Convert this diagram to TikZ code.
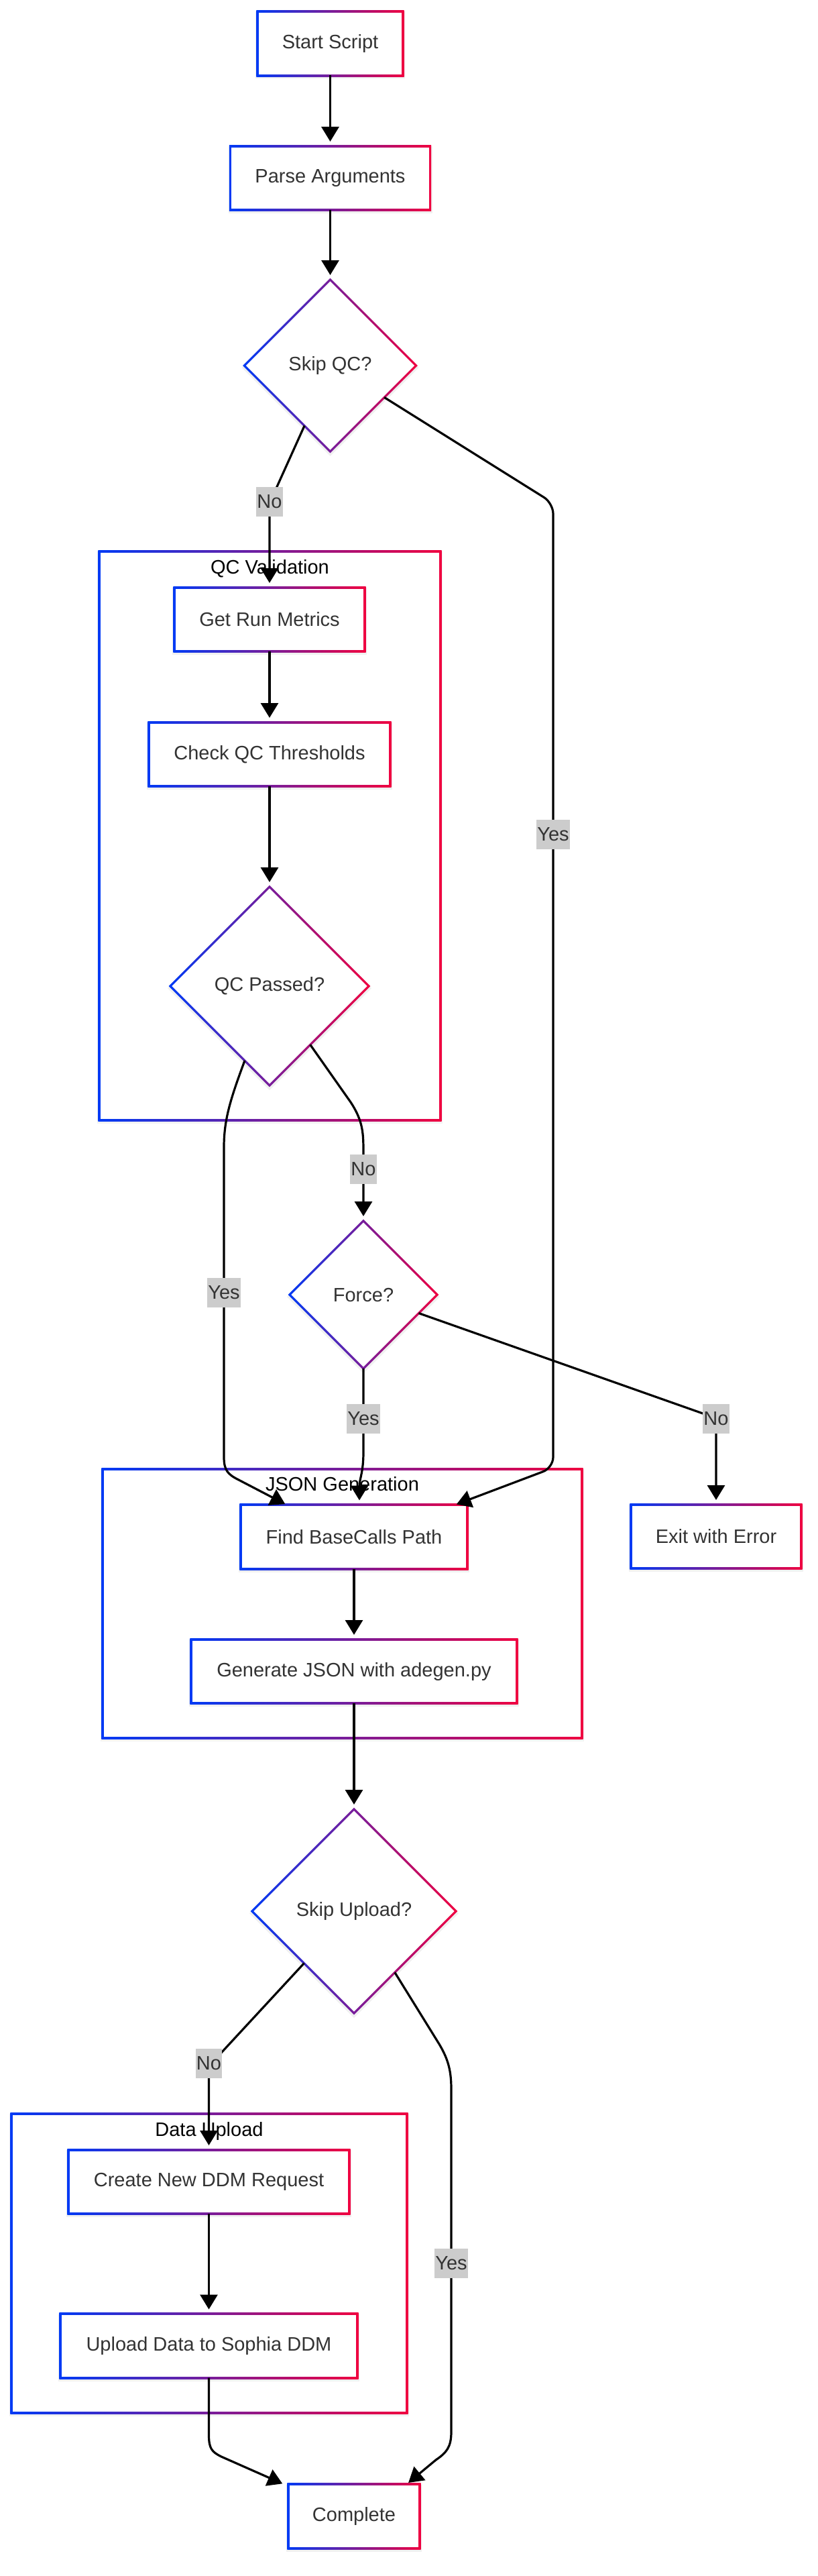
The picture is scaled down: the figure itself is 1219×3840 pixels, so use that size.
\documentclass[tikz,border=0pt]{standalone}
\usepackage{fontspec}
\setmainfont{Liberation Sans}
\usetikzlibrary{shapes.geometric,arrows.meta,calc,backgrounds}
\definecolor{cb}{RGB}{0,58,245}
\definecolor{cr}{RGB}{240,0,64}
\definecolor{txt}{HTML}{333333}
\definecolor{lblbg}{HTML}{CCCCCC}
% rectangle node frame with horizontal gradient
\newcommand\rframe[1]{%
  \fill[black,opacity=.06] ($(#1.north west)+(-3pt,0pt)$) rectangle ($(#1.south east)+(3pt,-5pt)$);
  \shade[left color=cb,right color=cr] ($(#1.north west)+(-1.6pt,1.6pt)$) rectangle ($(#1.south east)+(1.6pt,-1.6pt)$);
  \fill[white] ($(#1.north west)+(1.6pt,-1.6pt)$) rectangle ($(#1.south east)+(-1.6pt,1.6pt)$);}
% diamond node frame with horizontal gradient
\newcommand\dframe[1]{%
  \fill[black,opacity=.06] ($(#1.north)+(0,1pt)$) -- ($(#1.east)+(4pt,-3pt)$) -- ($(#1.south)+(0,-7pt)$) -- ($(#1.west)+(-4pt,-3pt)$) -- cycle;
  \shade[left color=cb,right color=cr] ($(#1.north)+(0,2.3pt)$) -- ($(#1.east)+(2.3pt,0)$) -- ($(#1.south)+(0,-2.3pt)$) -- ($(#1.west)+(-2.3pt,0)$) -- cycle;
  \fill[white] ($(#1.north)+(0,-2.3pt)$) -- ($(#1.east)+(-2.3pt,0)$) -- ($(#1.south)+(0,2.3pt)$) -- ($(#1.west)+(2.3pt,0)$) -- cycle;}
% cluster frame (typed coordinates, y downwards)
\newcommand\cframe[4]{%
  \fill[black,opacity=.05] (#1-3,#2) rectangle (#3+3,#4+5);
  \shade[left color=cb,right color=cr] (#1-1.6,#2-1.6) rectangle (#3+1.6,#4+1.6);
  \fill[white] (#1+1.6,#2+1.6) rectangle (#3-1.6,#4-1.6);}
\begin{document}
\begin{tikzpicture}[x=1pt,y=-1pt,font=\fontsize{29}{35}\selectfont,
  box/.style={rectangle,inner sep=0pt,outer sep=0pt,minimum height=95pt,text=txt},
  dec/.style={diamond,aspect=1,inner sep=0pt,outer sep=0pt,text=txt},
  lbl/.style={fill=lblbg,text=txt,inner xsep=1pt,inner ysep=0pt,minimum height=44pt},
  ctitle/.style={text=black,inner sep=0pt,anchor=base},
  edge/.style={line width=3.2pt,-{Triangle[length=22pt,width=26pt]},shorten >=7pt}]
\useasboundingbox (0,0) rectangle (1219,3840);

% cluster titles
\node[ctitle] (tqc) at (402.5,855) {QC Validation};
\node[ctitle] (tjson) at (510.5,2222) {JSON Generation};
\node[ctitle] (tdata) at (312,3184) {Data Upload};

% nodes
\node[box,minimum width=217pt] (start) at (492.5,65) {Start Script};
\node[box,minimum width=298pt] (parse) at (492.5,265.5) {Parse Arguments};
\node[dec,minimum width=256pt,minimum height=256pt] (skipqc) at (492.5,545) {Skip QC?};
\node[box,minimum width=284pt] (getrun) at (402,923.5) {Get Run Metrics};
\node[box,minimum width=360pt] (check) at (402,1124.5) {Check QC Thresholds};
\node[dec,minimum width=296pt,minimum height=296pt] (qcpass) at (402,1470) {QC Passed?};
\node[dec,minimum width=220pt,minimum height=220pt] (force) at (542,1930) {Force?};
\node[box,minimum width=338pt] (find) at (528,2291) {Find BaseCalls Path};
\node[box,minimum width=486pt] (gen) at (528,2491.5) {Generate JSON with adegen.py};
\node[box,minimum width=254pt] (exit) at (1068,2290.5) {Exit with Error};
\node[dec,minimum width=304pt,minimum height=304pt] (skipup) at (528,2849) {Skip Upload?};
\node[box,minimum width=419pt] (create) at (311.5,3252.5) {Create New DDM Request};
\node[box,minimum width=443pt] (upload) at (311.5,3497) {Upload Data to Sophia DDM};
\node[box,minimum width=196pt] (complete) at (528,3751) {Complete};

\begin{pgfonlayer}{background}
  \fill[white] (0,0) rectangle (1219,3840);
  \cframe{148}{822}{657}{1670}
  \cframe{153}{2190}{868}{2591}
  \cframe{17}{3151}{607}{3597}
  \rframe{start}\rframe{parse}\rframe{getrun}\rframe{check}
  \rframe{find}\rframe{gen}\rframe{exit}\rframe{create}\rframe{upload}\rframe{complete}
  \dframe{skipqc}\dframe{qcpass}\dframe{force}\dframe{skipup}
\end{pgfonlayer}

% connectors
\draw[edge] (start.south) -- (parse.north);
\draw[edge] (parse.south) -- (skipqc.north);
\draw[edge,rounded corners=14pt] ($(skipqc.west)!0.7!(skipqc.south)$) -- (402,750) -- (getrun.north);
\draw[edge,rounded corners=16pt,shorten >=3pt] ($(skipqc.east)!0.37!(skipqc.south)$) -- (825,750) -- (825,2188) -- ($(find.north east)+(-19pt,0)$);
\draw[edge] (getrun.south) -- (check.north);
\draw[edge] (check.south) -- (qcpass.north);
\draw[edge] ($(qcpass.east)!0.59!(qcpass.south)$) -- (523,1643) .. controls (542,1672) and (542,1690) .. (542,1720) -- (force.north);
\draw[edge,shorten >=3pt] ($(qcpass.west)!0.75!(qcpass.south)$) .. controls (343,1640) and (334,1670) .. (334,1710) -- (334,2172) .. controls (334,2192) and (340,2198) .. (356,2206) -- ($(find.north west)+(69pt,0)$);
\draw[edge] (force.south) -- (542,2165) .. controls (542,2195) and (536,2205) .. ($(find.north)+(8pt,0)$);
\draw[edge,rounded corners=10pt] ($(force.east)!0.25!(force.south)$) -- (1068,2114) -- (exit.north);
\draw[edge] (find.south) -- (gen.north);
\draw[edge] (gen.south) -- (skipup.north);
\draw[edge,rounded corners=12pt] ($(skipup.west)!0.51!(skipup.south)$) -- (311.5,3080) -- (create.north);
\draw[edge,shorten >=4pt] ($(skipup.east)!0.6!(skipup.south)$) -- (655,3047) .. controls (670,3072) and (673,3090) .. (673,3115) -- (673,3625) .. controls (673,3648) and (666,3656) .. (650,3667) -- ($(complete.north east)+(-20pt,0)$);
\draw[edge] (create.south) -- (upload.north);
\draw[edge,shorten >=3pt] (upload.south) -- (311.5,3630) .. controls (311.5,3650) and (316,3655) .. (330,3662) -- ($(complete.north west)+(-6pt,0)$);

% edge labels
\node[lbl] (l1) at (402,748) {No};
\node[lbl] (l2) at (825,1244) {Yes};
\node[lbl] (l3) at (542,1743) {No};
\node[lbl] (l4) at (334,1927) {Yes};
\node[lbl] (l5) at (542,2115) {Yes};
\node[lbl] (l6) at (1068,2115) {No};
\node[lbl] (l7) at (311.5,3076) {No};
\node[lbl] (l8) at (673,3374) {Yes};
\end{tikzpicture}
\end{document}
